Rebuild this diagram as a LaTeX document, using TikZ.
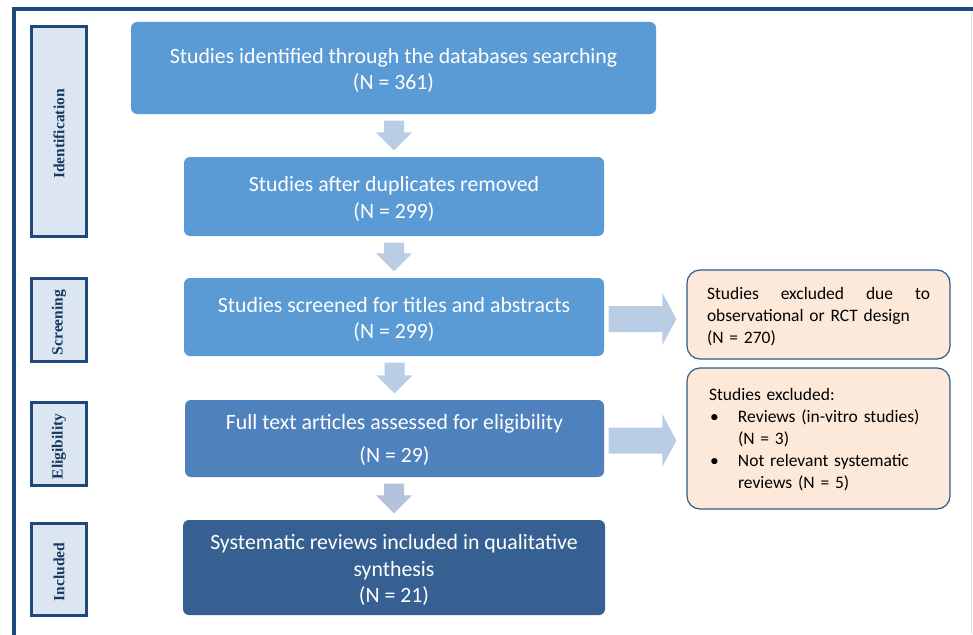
\documentclass[tikz,border=0pt]{standalone}
\usepackage{fontspec}
\setmainfont{Carlito}
\newfontfamily\labfont{Liberation Serif}
\usetikzlibrary{calc}
\definecolor{frameblue}{HTML}{1F497D}
\definecolor{phasefill}{HTML}{DCE6F2}
\definecolor{phasetext}{HTML}{17375E}
\definecolor{boxa}{HTML}{5B9BD5}
\definecolor{boxb}{HTML}{4F81BD}
\definecolor{boxc}{HTML}{376092}
\definecolor{arrowfill}{HTML}{B9CDE5}
\definecolor{arrowfilltwo}{HTML}{B4C3DB}
\definecolor{exclfill}{HTML}{FDE9D9}
\definecolor{exclborder}{HTML}{2E5A8C}
\newcommand\dnarrow[3]{%
  \fill[#3] let \p1=(#1.south), \p2=(#2.north) in
   (\x2-10pt,\y1-6.5pt) -- (\x2+10pt,\y1-6.5pt) -- (\x2+10pt,\y2+24.5pt) --
   (\x2+18pt,\y2+24.5pt) -- (\x2,\y2+6.5pt) -- (\x2-18pt,\y2+24.5pt) --
   (\x2-10pt,\y2+24.5pt) -- cycle;}
\newcommand\rtarrow[2]{%
  \fill[arrowfill] let \p1=(#1.east), \p2=(#2.west) in
   (\x1+4.5pt,\y1-2pt+13pt) -- (\x2-24pt,\y1-2pt+13pt) -- (\x2-24pt,\y1-2pt+26pt) --
   (\x2-10pt,\y1-2pt) -- (\x2-24pt,\y1-2pt-26pt) -- (\x2-24pt,\y1-2pt-13pt) --
   (\x1+4.5pt,\y1-2pt-13pt) -- cycle;}
\begin{document}
\begin{tikzpicture}[x=1pt,y=-1pt,
  mainbox/.style={rectangle, rounded corners=6pt, inner sep=0pt},
  maintext/.style={inner sep=0pt, text=white, align=center,
    font=\fontsize{21.8}{26.5}\selectfont},
  phase/.style={rectangle, draw=frameblue, line width=2.6pt, fill=phasefill,
    inner sep=0pt},
  phasetxt/.style={rotate=90, inner sep=0pt, text=phasetext,
    font=\labfont\bfseries\fontsize{15.5}{18}\selectfont},
  exclbox/.style={rectangle, rounded corners=13pt, draw=exclborder, line width=1.2pt,
    fill=exclfill, inner sep=0pt},
  excltext/.style={inner sep=0pt, align=left, text width=223pt,
    font=\fontsize{17.5}{22}\selectfont}]
\useasboundingbox (0,0) rectangle (973,634);
\fill[white] (0,0) rectangle (973,634);
% outer frame
\draw[frameblue, line width=3.5pt] (14,636) -- (14,9) -- (973,9);
\draw[gray!25, line width=1.5pt] (971.5,11) -- (971.5,634);
% phase labels
\node[phase, minimum width=55.4pt, minimum height=210.4pt] (pid) at (59,131.5) {};
\node[phase, minimum width=55.4pt, minimum height=83.4pt] (psc) at (59,320) {};
\node[phase, minimum width=55.4pt, minimum height=83.4pt] (pel) at (59,444) {};
\node[phase, minimum width=55.4pt, minimum height=92.4pt] (pin) at (59,569.5) {};
\node[phasetxt, xshift=-2.5pt] (lid) at (pid.center) {Identification};
\node[phasetxt, xshift=-2.5pt] (lsc) at (psc.center) {Screening};
\node[phasetxt, xshift=-2.5pt] (lel) at (pel.center) {Eligibility};
\node[phasetxt, xshift=-2.5pt] (lin) at (pin.center) {Included};
% main boxes
\node[mainbox, fill=boxa, minimum width=525pt, minimum height=92pt] (b1) at (393.5,68) {};
\node[mainbox, fill=boxa, minimum width=420pt, minimum height=79pt] (b2) at (394,196.5) {};
\node[mainbox, fill=boxa, minimum width=420pt, minimum height=78pt] (b3) at (394,317) {};
\node[mainbox, fill=boxb, minimum width=419pt, minimum height=77pt] (b4) at (394.5,438.5) {};
\node[mainbox, fill=boxc, minimum width=422pt, minimum height=95pt] (b5) at (394,567.5) {};
\node[maintext, yshift=-2.5pt] (t1) at (b1.center)
  {Studies identified through the databases searching\\(N = 361)};
\node[maintext, yshift=-2.5pt] (t2) at (b2.center)
  {Studies after duplicates removed\\(N = 299)};
\node[maintext, yshift=-2.5pt] (t3) at (b3.center)
  {Studies screened for titles and abstracts\\(N = 299)};
\node[maintext, yshift=-1.5pt] (t4) at (b4.center)
  {Full text articles assessed for eligibility\\[6pt](N = 29)};
\node[maintext, yshift=-2.5pt] (t5) at (b5.center)
  {Systematic reviews included in qualitative\\synthesis\\(N = 21)};
% exclusion boxes
\node[exclbox, minimum width=263pt, minimum height=89pt] (ea) at (818.5,314.5) {};
\node[exclbox, minimum width=263pt, minimum height=141pt] (eb) at (818.5,438.5) {};
\node[excltext, yshift=-2.5pt] (xa) at (ea.center)
  {\makebox[223pt][l]{Studies\hfill excluded\hfill due\hfill to}\\observational or RCT design\\(N = 270)};
\node[excltext, yshift=-1.5pt] (xb) at (eb.center)
  {\hspace*{2pt}Studies excluded:\\
   \hspace*{3pt}\makebox[28pt][l]{\textbullet}Reviews (in-vitro studies)\\
   \hspace*{31pt}(N = 3)\\
   \hspace*{3pt}\makebox[28pt][l]{\textbullet}Not relevant systematic\\
   \hspace*{31pt}reviews (N = 5)};
% arrows
\dnarrow{b1}{b2}{arrowfill}
\dnarrow{b2}{b3}{arrowfill}
\dnarrow{b3}{b4}{arrowfill}
\dnarrow{b4}{b5}{arrowfilltwo}
\rtarrow{b3}{ea}
\rtarrow{b4}{eb}
\end{tikzpicture}
\end{document}
